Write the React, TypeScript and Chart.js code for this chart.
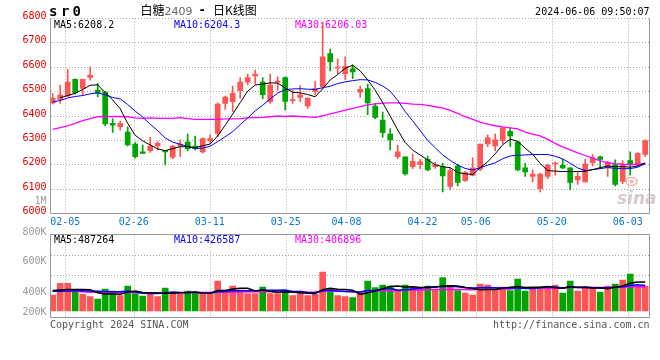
import React, { useEffect, useRef } from 'react';
import { Chart, registerables } from 'chart.js';

Chart.register(...registerables);

// ---------- data ----------
const DATES = [
  '02-01','02-02','02-05','02-06','02-07','02-08','02-19','02-20','02-21','02-22',
  '02-23','02-26','02-27','02-28','02-29','03-01','03-04','03-05','03-06','03-07',
  '03-08','03-11','03-12','03-13','03-14','03-15','03-18','03-19','03-20','03-21',
  '03-22','03-25','03-26','03-27','03-28','03-29','04-01','04-02','04-03','04-08',
  '04-09','04-10','04-11','04-12','04-15','04-16','04-17','04-18','04-19','04-22',
  '04-23','04-24','04-25','04-26','04-29','04-30','05-06','05-07','05-08','05-09',
  '05-10','05-13','05-14','05-15','05-16','05-17','05-20','05-21','05-22','05-23',
  '05-24','05-27','05-28','05-29','05-30','05-31','06-03','06-04','06-05','06-06',
];
const AXIS_LABELS = ['02-05','02-26','03-11','03-25','04-08','04-22','05-06','05-20','06-03'];

const OPEN = [
  6454,6468,6482,6550,6513,6558,6506,6498,6370,6356,
  6334,6285,6253,6258,6277,6258,6231,6277,6293,6277,
  6253,6299,6329,6452,6459,6504,6539,6564,6539,6459,
  6539,6558,6463,6476,6441,6501,6520,6656,6597,6574,
  6594,6498,6512,6441,6383,6326,6233,6233,6192,6201,
  6222,6192,6192,6111,6195,6135,6157,6182,6285,6277,
  6299,6337,6293,6187,6152,6102,6152,6203,6198,6187,
  6138,6130,6209,6233,6187,6201,6132,6217,6203,6242,
];
const HIGH = [
  6493,6527,6591,6552,6551,6602,6534,6500,6389,6379,
  6356,6291,6281,6313,6295,6259,6280,6302,6326,6318,
  6310,6323,6454,6482,6523,6558,6572,6588,6558,6572,
  6561,6561,6506,6525,6474,6542,6785,6675,6635,6643,
  6610,6523,6531,6452,6416,6348,6280,6233,6244,6222,
  6236,6210,6206,6187,6203,6173,6228,6285,6323,6326,
  6353,6351,6296,6206,6179,6165,6203,6212,6222,6187,
  6168,6222,6242,6236,6214,6220,6217,6253,6250,6302,
];
const LOW = [
  6449,6452,6479,6490,6486,6547,6479,6359,6333,6343,
  6277,6227,6246,6251,6261,6199,6225,6233,6258,6261,
  6247,6288,6315,6427,6418,6472,6528,6531,6471,6452,
  6506,6424,6452,6459,6431,6486,6512,6585,6574,6550,
  6553,6476,6405,6389,6313,6261,6225,6157,6184,6184,
  6176,6185,6089,6097,6113,6132,6154,6176,6274,6258,
  6285,6274,6176,6152,6130,6089,6143,6157,6184,6097,
  6119,6130,6195,6184,6152,6113,6122,6157,6192,6233,
];
const CLOSE = [
  6474,6486,6539,6495,6550,6568,6495,6367,6362,6370,
  6281,6233,6246,6277,6288,6253,6277,6285,6266,6266,
  6307,6307,6449,6478,6493,6539,6558,6572,6487,6527,
  6543,6460,6466,6487,6474,6512,6643,6622,6601,6604,
  6581,6509,6454,6394,6332,6302,6253,6162,6214,6212,
  6179,6200,6154,6176,6127,6168,6187,6285,6310,6302,
  6351,6318,6179,6171,6162,6162,6198,6207,6187,6127,
  6152,6203,6228,6222,6209,6119,6198,6201,6247,6299,
];
const MA5 = [
  null,6475,6484,6493,6509,6526,6528,6496,6466,6430,
  6370,6321,6298,6281,6265,6258,6266,6274,6274,6270,
  6278,6285,6318,6362,6408,6455,6502,6527,6531,6536,
  6535,6515,6497,6495,6488,6479,6512,6548,6570,6596,
  6608,6585,6548,6506,6455,6400,6343,6291,6260,6240,
  6220,6200,6192,6188,6168,6163,6160,6188,6212,6245,
  6282,6305,6296,6268,6243,6205,6176,6174,6172,6172,
  6172,6173,6180,6188,6195,6192,6192,6190,6195,6208,
];
const MA10 = [
  6457,6464,6474,6480,6484,6491,6495,6487,6476,6470,
  6447,6420,6396,6366,6340,6310,6293,6284,6275,6267,
  6268,6276,6295,6315,6336,6364,6392,6421,6444,6470,
  6494,6508,6511,6512,6510,6509,6516,6522,6533,6540,
  6545,6549,6548,6538,6523,6502,6464,6418,6380,6340,
  6300,6270,6240,6218,6198,6185,6178,6188,6198,6208,
  6225,6236,6239,6240,6242,6242,6242,6235,6224,6206,
  6187,6176,6180,6184,6189,6185,6184,6184,6190,6204,
];
const MA30 = [
  6345,6352,6359,6370,6381,6389,6397,6398,6398,6398,
  6397,6392,6390,6392,6390,6390,6390,6393,6389,6386,
  6386,6386,6386,6388,6388,6389,6392,6393,6394,6397,
  6400,6398,6400,6398,6396,6394,6401,6409,6416,6424,
  6431,6438,6446,6450,6453,6454,6454,6452,6449,6448,
  6444,6438,6433,6423,6411,6397,6386,6375,6367,6360,
  6355,6351,6347,6334,6326,6318,6304,6288,6273,6261,
  6249,6238,6227,6216,6209,6205,6202,6201,6201,6206,
];
const VOLUME = [
  269000,465000,465000,336000,280000,241000,202000,370000,336000,258000,
  420000,291000,252000,314000,241000,386000,308000,280000,336000,297000,
  291000,291000,504000,336000,420000,353000,291000,291000,403000,291000,
  291000,347000,258000,336000,258000,280000,655000,370000,258000,241000,
  224000,308000,504000,392000,437000,420000,336000,437000,403000,381000,
  420000,347000,560000,420000,342000,302000,269000,454000,437000,347000,
  403000,342000,538000,336000,370000,403000,403000,437000,302000,504000,
  336000,403000,392000,319000,420000,454000,521000,622000,420000,420000,
];
const VOL_MA5 = [
  345000,352000,360000,362000,363000,357000,305000,286000,286000,281000,
  317000,335000,311000,307000,304000,297000,300000,306000,310000,321000,
  302000,299000,344000,344000,368000,381000,381000,338000,352000,326000,
  313000,325000,318000,305000,298000,296000,357000,380000,364000,361000,
  350000,280000,307000,334000,373000,412000,418000,404000,407000,395000,
  395000,398000,422000,426000,418000,394000,379000,357000,361000,362000,
  382000,397000,413000,393000,398000,398000,410000,390000,383000,410000,
  396000,396000,387000,391000,374000,398000,421000,467000,487000,487000,
];
const VOL_MA10 = [
  330000,333000,338000,340000,340000,338000,333000,328000,325000,322000,
  337000,320000,299000,296000,293000,307000,318000,309000,309000,313000,
  300000,300000,325000,327000,345000,342000,340000,341000,348000,347000,
  347000,353000,328000,328000,312000,305000,341000,349000,334000,329000,
  323000,319000,343000,349000,367000,381000,349000,356000,370000,384000,
  404000,408000,413000,416000,407000,395000,388000,390000,393000,390000,
  388000,388000,385000,377000,380000,390000,403000,402000,388000,404000,
  397000,403000,389000,387000,392000,397000,409000,427000,439000,427000,
];
const VOL_MA30 = [
  342000,338000,333000,327000,322000,317000,314000,312000,311000,310000,
  310000,309000,308000,308000,307000,307000,308000,308000,309000,310000,
  311000,312000,315000,317000,319000,321000,322000,323000,325000,327000,
  328000,324000,317000,317000,316000,318000,333000,333000,330000,330000,
  323000,324000,332000,335000,341000,342000,343000,349000,351000,354000,
  358000,360000,362000,364000,362000,360000,359000,365000,366000,368000,
  372000,371000,381000,381000,384000,389000,380000,382000,384000,393000,
  396000,400000,396000,393000,393000,394000,400000,406000,407000,407000,
];
const PRICE_TICK_STEP = 100;
const PRICE_MIN = 6000;
const PRICE_MAX = 6800;
const VOL_GRID_TICKS = [600000, 930000];
const VOL_AXIS_LABELS = ['800K', '600K', '400K', '200K'];
const LAST = { ma5: '6208.2', ma10: '6204.3', ma30: '6206.03', vma5: '487264', vma10: '426587', vma30: '406896' };

// ---------- styles ----------
const MONO = '"DejaVu Sans Mono", monospace';
const CJK = '"Noto Sans CJK SC", sans-serif';
const RED = '#ff5555';
const GREEN = '#00a600';
const FRAME = '#999999';
const GRIDC = '#a8a8a8';

const IDX = DATES.map((_, i) => i);
const COLORS = IDX.map((i) => (CLOSE[i] >= OPEN[i] ? RED : GREEN));

const candleAxis = () => ({ type: 'linear', min: -0.293, max: 79.574, display: false, offset: false, grid: { offset: false } });

const gridAxis = (labelColor: string) => ({
  type: 'linear',
  position: 'bottom',
  min: 0.053,
  max: 78.87,
  offset: false,
  afterBuildTicks: (s: any) => {
    s.ticks = AXIS_LABELS.map((l) => ({ value: DATES.indexOf(l) }));
  },
  afterFit: (s: any) => {
    s.height = 15;
    s.paddingLeft = 0;
    s.paddingRight = 0;
  },
  grid: { display: false, drawTicks: false, offset: false },
  border: { display: false },
  ticks: {
    autoSkip: false,
    maxRotation: 0,
    minRotation: 0,
    padding: 3,
    color: labelColor,
    font: { family: MONO, size: 10 },
    callback: (v: any) => DATES[v] ?? '',
  },
});

function text(ctx: CanvasRenderingContext2D, s: string, x: number, y: number, font: string, color: string, align: CanvasTextAlign = 'left') {
  ctx.save();
  ctx.font = font;
  ctx.fillStyle = color;
  ctx.textAlign = align;
  ctx.textBaseline = 'alphabetic';
  ctx.fillText(s, x, y);
  ctx.restore();
}

// vertical dotted grid lines at the xg scale's ticks
function drawVerticalGrid(chart: any) {
  const s = chart.scales.xg;
  const ca = chart.chartArea;
  const ctx = chart.ctx;
  ctx.save();
  ctx.strokeStyle = GRIDC;
  ctx.lineWidth = 1;
  ctx.setLineDash([1, 2]);
  s.ticks.forEach((t: any) => {
    const x = Math.round(s.getPixelForValue(t.value)) + 0.5;
    ctx.beginPath();
    ctx.moveTo(x, ca.top);
    ctx.lineTo(x, ca.bottom);
    ctx.stroke();
  });
  ctx.restore();
}

const priceDecor = {
  id: 'priceDecor',
  beforeDatasetsDraw(chart: any) {
    drawVerticalGrid(chart);
    const ctx = chart.ctx;
    const f = `10px ${MONO}`;
    text(ctx, `MA5:${LAST.ma5}`, 54, 27.5, f, '#000');
    text(ctx, `MA10:${LAST.ma10}`, 174, 27.5, f, '#0000ff');
    text(ctx, `MA30:${LAST.ma30}`, 295, 27.5, f, '#ff00ff');
  },
  afterDraw(chart: any) {
    const ctx = chart.ctx;
    const ca = chart.chartArea;
    ctx.save();
    ctx.strokeStyle = FRAME;
    ctx.lineWidth = 1;
    ctx.beginPath();
    ctx.moveTo(ca.left, ca.top);
    ctx.lineTo(ca.left, ca.bottom);
    ctx.lineTo(ca.right, ca.bottom);
    ctx.lineTo(ca.right, ca.top);
    ctx.stroke();
    ctx.restore();
    const bold = `bold 14px ${MONO}`;
    text(ctx, 's', 53.3, 16, bold, '#000', 'center');
    text(ctx, 'r', 65.2, 16, bold, '#000', 'center');
    text(ctx, '0', 76.7, 16, bold, '#000', 'center');
    text(ctx, '白糖', 140.5, 14.5, `12px ${CJK}`, '#000');
    text(ctx, '2409', 164.5, 14.5, `11px "DejaVu Sans", sans-serif`, '#666');
    text(ctx, '-', 198.5, 14, `bold 12px ${MONO}`, '#000');
    text(ctx, '日K线图', 213, 14.5, `12px ${CJK}`, '#000');
    text(ctx, '2024-06-06 09:50:07', 649.5, 15, `10px ${MONO}`, '#000', 'right');
    text(ctx, '1M', 46.5, 203.5, `10px ${MONO}`, '#999', 'right');
    ctx.save();
    ctx.strokeStyle = 'rgba(235,120,120,0.55)';
    ctx.lineWidth = 1.5;
    ctx.beginPath();
    ctx.ellipse(631.5, 181.5, 5.5, 4, 0, 0, Math.PI * 2);
    ctx.stroke();
    ctx.fillStyle = 'rgba(235,120,120,0.55)';
    ctx.beginPath();
    ctx.arc(631.5, 181.5, 2, 0, Math.PI * 2);
    ctx.fill();
    ctx.restore();
    text(ctx, 'sina', 617, 204, `italic bold 17px "DejaVu Sans", sans-serif`, 'rgba(200,185,185,0.75)');
  },
};

const volDecor = {
  id: 'volDecor',
  beforeDatasetsDraw(chart: any) {
    drawVerticalGrid(chart);
    const ctx = chart.ctx;
    const f = `10px ${MONO}`;
    text(ctx, `MA5:${LAST.vma5}`, 54, 16.5, f, '#000');
    text(ctx, `MA10:${LAST.vma10}`, 174, 16.5, f, '#0000ff');
    text(ctx, `MA30:${LAST.vma30}`, 295, 16.5, f, '#ff00ff');
  },
  afterDraw(chart: any) {
    const ctx = chart.ctx;
    const ca = chart.chartArea;
    ctx.save();
    ctx.strokeStyle = FRAME;
    ctx.lineWidth = 1;
    ctx.strokeRect(ca.left, ca.top, ca.right - ca.left, ca.bottom - ca.top);
    ctx.restore();
    const f = `10px ${MONO}`;
    const ys = [ca.top + 0.1, ca.top + 29.1, ca.top + 60.1, ca.top + 80.1];
    VOL_AXIS_LABELS.forEach((l, i) => text(ctx, l, 46.5, ys[i], f, '#999', 'right'));
    text(ctx, 'Copyright 2024 SINA.COM', 50, ca.bottom + 10, f, '#555');
    text(ctx, 'http://finance.sina.com.cn', 649.5, ca.bottom + 10, f, '#555', 'right');
  },
};

function lineDs(label: string, data: (number | null)[], color: string, width: number) {
  return {
    type: 'line',
    label,
    data: IDX.map((i) => ({ x: i, y: data[i] })),
    borderColor: color,
    borderWidth: width,
    pointRadius: 0,
    tension: 0,
    fill: false,
    xAxisID: 'x',
    yAxisID: 'y',
    order: 0,
  };
}

const yFit = (s: any) => {
  s.width = 50.5;
  s.paddingTop = 0;
  s.paddingBottom = 0;
};

function priceConfig(): any {
  return {
    type: 'bar',
    data: {
      datasets: [
        {
          type: 'bar',
          label: 'wick',
          data: IDX.map((i) => ({ x: i, y: [LOW[i], HIGH[i]] })),
          backgroundColor: COLORS,
          barThickness: 1,
          grouped: false,
          order: 3,
          xAxisID: 'x',
          yAxisID: 'y',
        },
        {
          type: 'bar',
          label: 'body',
          data: IDX.map((i) => ({ x: i, y: [OPEN[i], CLOSE[i]] })),
          backgroundColor: COLORS,
          barThickness: 5,
          minBarLength: 1,
          grouped: false,
          order: 2,
          xAxisID: 'x',
          yAxisID: 'y',
        },
        lineDs('MA5', MA5, '#000000', 1),
        lineDs('MA10', MA10, '#0000ff', 1),
        lineDs('MA30', MA30, '#ff00ff', 1.3),
      ],
    },
    options: {
      responsive: false,
      devicePixelRatio: 1,
      animation: false,
      layout: { padding: { left: 0, right: 10.5, top: 18.5, bottom: 0.5 } },
      plugins: { legend: { display: false }, tooltip: { enabled: false }, title: { display: false } },
      scales: {
        x: candleAxis(),
        xg: gridAxis('#0b78d6'),
        y: {
          type: 'linear',
          position: 'left',
          min: PRICE_MIN,
          max: PRICE_MAX,
          afterFit: yFit,
          grid: { color: GRIDC, lineWidth: 1, drawTicks: false },
          border: { display: false, dash: [1, 2] },
          ticks: {
            stepSize: PRICE_TICK_STEP,
            padding: 4,
            labelOffset: -2,
            color: '#e60000',
            font: { family: MONO, size: 10 },
            callback: (v: any) => String(v),
          },
        },
      },
    },
    plugins: [priceDecor],
  };
}

function volConfig(): any {
  return {
    type: 'bar',
    data: {
      datasets: [
        {
          type: 'bar',
          label: 'volume',
          data: IDX.map((i) => ({ x: i, y: VOLUME[i] })),
          backgroundColor: COLORS,
          barThickness: 6,
          grouped: false,
          order: 2,
          xAxisID: 'x',
          yAxisID: 'y',
        },
        lineDs('VMA5', VOL_MA5, '#000000', 1.5),
        lineDs('VMA10', VOL_MA10, '#0000ff', 1.5),
        lineDs('VMA30', VOL_MA30, '#ff00ff', 1.5),
      ],
    },
    options: {
      responsive: false,
      devicePixelRatio: 1,
      animation: false,
      layout: { padding: { left: 0, right: 10.5, top: 8.5, bottom: 27.5 } },
      plugins: { legend: { display: false }, tooltip: { enabled: false }, title: { display: false } },
      scales: {
        x: candleAxis(),
        xg: gridAxis('rgba(0,0,0,0)'),
        y: {
          type: 'linear',
          position: 'left',
          min: -109200,
          max: 1285200,
          afterBuildTicks: (s: any) => {
            s.ticks = VOL_GRID_TICKS.map((v) => ({ value: v }));
          },
          afterFit: yFit,
          grid: { color: GRIDC, lineWidth: 1, drawTicks: false },
          border: { display: false, dash: [1, 2] },
          ticks: { display: false },
        },
      },
    },
    plugins: [volDecor],
  };
}

export default function App() {
  const priceRef = useRef<HTMLCanvasElement>(null);
  const volRef = useRef<HTMLCanvasElement>(null);
  useEffect(() => {
    const p = new Chart(priceRef.current as HTMLCanvasElement, priceConfig());
    const v = new Chart(volRef.current as HTMLCanvasElement, volConfig());
    return () => {
      p.destroy();
      v.destroy();
    };
  }, []);
  return (
    <div style={{ position: 'absolute', left: 0, top: 0, width: 660, height: 360, background: '#fff' }}>
      <canvas ref={priceRef} width={660} height={229} style={{ position: 'absolute', left: 0, top: 0, width: 660, height: 229 }} />
      <canvas ref={volRef} width={660} height={134} style={{ position: 'absolute', left: 0, top: 226, width: 660, height: 134 }} />
    </div>
  );
}
